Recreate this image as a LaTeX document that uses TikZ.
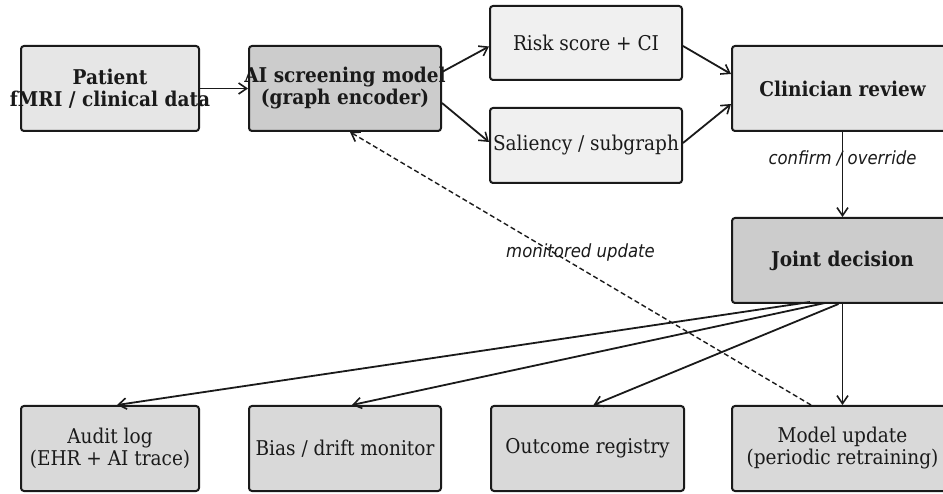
\documentclass[tikz,border=0pt]{standalone}
\usepackage{fontspec}
\usepackage{graphicx}
\setmainfont{DejaVu Serif}
\newfontfamily\notefont{DejaVu Sans}
\usetikzlibrary{arrows.meta}

% zero-width, slightly tall line so long text may overhang its box, centred
\newcommand{\ctrline}[1]{\makebox[0pt][c]{\scalebox{1}[1.1]{#1}}}
\newcommand{\tallnote}[1]{\scalebox{1}[1.1]{#1}}

\definecolor{fillLight}{HTML}{F0F0F0}
\definecolor{fillMid}{HTML}{E6E6E6}
\definecolor{fillDark}{HTML}{CCCCCC}
\definecolor{fillLow}{HTML}{D9D9D9}
\definecolor{inkLine}{HTML}{1A1A1A}

\tikzset{
  boxbase/.style={draw=inkLine, line width=2pt, rounded corners=3pt,
    inner sep=0pt, align=center, text=inkLine,
    font=\fontsize{18.5}{22}\selectfont},
  boldbox/.style={boxbase, font=\fontsize{18.5}{22}\selectfont\bfseries},
  flow/.style={draw=inkLine, line width=1.8pt,
    -{Straight Barb[length=8pt,width=11pt,line width=1.6pt]}},
  backflow/.style={flow, line width=1.4pt, dash pattern=on 5pt off 3pt},
  note/.style={font=\notefont\itshape\fontsize{16.5}{19}\selectfont,
    text=inkLine, inner sep=1pt},
}

\begin{document}
\begin{tikzpicture}[x=1pt,y=-1pt]
\useasboundingbox[fill=white] (0,0) rectangle (943,494);

% top row
\node[boldbox, fill=fillMid, minimum width=178pt, minimum height=85pt]
  (pat) at (110,88.5) {\ctrline{Patient}\\\ctrline{fMRI / clinical data}};
\node[boldbox, fill=fillDark, minimum width=192pt, minimum height=85pt]
  (ai) at (345,88.5) {\ctrline{AI screening model}\\\ctrline{(graph encoder)}};
\node[boxbase, fill=fillLight, minimum width=192pt, minimum height=74pt]
  (risk) at (586,43) {\ctrline{Risk score + CI}};
\node[boxbase, fill=fillLight, minimum width=192pt, minimum height=75pt]
  (sal) at (586,145.5) {\ctrline{Saliency / subgraph}};
\node[boldbox, fill=fillMid, minimum width=221pt, minimum height=85pt]
  (clin) at (842.5,88.5) {\ctrline{Clinician review}};

% decision
\node[boldbox, fill=fillDark, minimum width=221pt, minimum height=85pt]
  (joint) at (842.5,260.5) {\ctrline{Joint decision}};

% bottom row
\node[boxbase, fill=fillLow, minimum width=178pt, minimum height=85pt]
  (audit) at (110,448.5) {\ctrline{Audit log}\\\ctrline{(EHR + AI trace)}};
\node[boxbase, fill=fillLow, minimum width=192pt, minimum height=85pt]
  (bias) at (345,448.5) {\ctrline{Bias / drift monitor}};
\node[boxbase, fill=fillLow, minimum width=193pt, minimum height=85pt]
  (outc) at (587.5,448.5) {\ctrline{Outcome registry}};
\node[boxbase, fill=fillLow, minimum width=221pt, minimum height=85pt]
  (upd) at (842.5,448.5) {\ctrline{Model update}\\\ctrline{(periodic retraining)}};

% forward flow
\draw[flow] (pat.east) -- (ai.west);
\draw[flow] ([yshift=16.5pt]ai.east) -- ([yshift=-3.5pt]risk.west);
\draw[flow] ([yshift=-14.5pt]ai.east) -- ([yshift=3.5pt]sal.west);
\draw[flow] ([yshift=-3pt]risk.east) -- ([yshift=14.5pt]clin.west);
\draw[flow] ([yshift=2.5pt]sal.east) -- ([yshift=-15.5pt]clin.west);
\draw[flow] (clin.south) -- node[note, pos=0.31] {\tallnote{confirm / override}} (joint.north);

% outputs of the decision
\draw[flow] ([xshift=-32.5pt,yshift=2pt]joint.south) -- ([xshift=7pt]audit.north);
\draw[flow] ([xshift=-17.5pt,yshift=1pt]joint.south) -- ([xshift=7pt]bias.north);
\draw[flow] ([xshift=-4pt]joint.south) -- ([xshift=6pt]outc.north);
\draw[flow] (joint.south) -- (upd.north);

% feedback to the model
\draw[backflow] ([xshift=-31.5pt]upd.north) --
  node[note, midway, yshift=16.5pt] {\tallnote{monitored update}} ([xshift=5pt]ai.south);
\end{tikzpicture}
\end{document}
